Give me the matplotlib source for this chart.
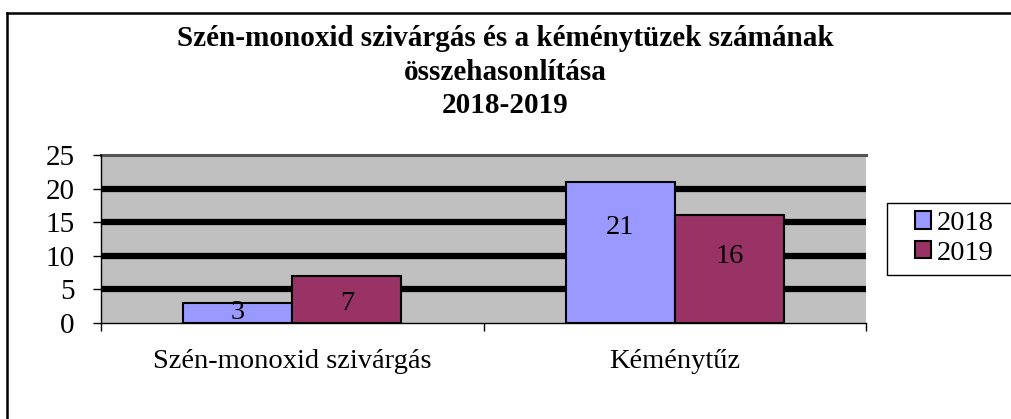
import matplotlib
matplotlib.use("Agg")
import matplotlib.pyplot as plt
from matplotlib.patches import Patch, Rectangle
from matplotlib.lines import Line2D
import numpy as np

# ---- data ----
categories = ["Szén-monoxid szivárgás", "Kéménytűz"]
series_names = ["2018", "2019"]
values_2018 = [3, 21]
values_2019 = [7, 16]
yticks = [0, 5, 10, 15, 20, 25]
title = "Szén-monoxid szivárgás és a kéménytüzek számának\nösszehasonlítása\n2018-2019"

# ---- style ----
colors = ["#9999FF", "#993366"]
label_frac = [[0.53, 0.676], [0.42, 0.62]]  # vertical placement of value labels within bars
plt.rcParams['font.family'] = ['Liberation Serif', 'DejaVu Serif']
W, H = 1011, 419
fig = plt.figure(figsize=(W / 100, H / 100), dpi=100)

def fx(px):
    return px / W

def fy(py):
    return 1 - py / H

ax = fig.add_axes([fx(101), fy(323), fx(866) - fx(101), fy(155) - fy(323)])
ax.set_facecolor("#C0C0C0")
ax.set_xlim(-0.5, 1.5)
ax.set_ylim(0, 25)

# gridlines
for t in yticks[1:-1]:
    ax.axhline(t, color="black", lw=4.5, zorder=1)
ax.axhline(25, color="#555555", lw=2.2, zorder=1, clip_on=False)

x = np.arange(len(categories))
bw = 0.285
all_vals = [values_2018, values_2019]
for i, vals in enumerate(all_vals):
    xs = x + (i - 0.5) * bw
    ax.bar(xs, vals, width=bw, color=colors[i], edgecolor="black", linewidth=1.5, zorder=3)
    for j, (bx, v) in enumerate(zip(xs, vals)):
        ax.text(bx, v * label_frac[i][j], str(v), ha="center", va="center", fontsize=20.5, zorder=4)

for s in ["top", "right"]:
    ax.spines[s].set_visible(False)
ax.spines["left"].set_linewidth(1.0)
ax.spines["bottom"].set_linewidth(1.0)
ax.spines["left"].set_zorder(5)
ax.spines["bottom"].set_zorder(5)

ax.set_yticks(yticks)
ax.set_yticklabels([str(t) for t in yticks], fontsize=21)
ax.tick_params(axis="y", direction="out", length=6, width=1, pad=13)

ax.set_xticks([-0.5, 0.5, 1.5])
ax.set_xticklabels([])
ax.tick_params(axis="x", direction="out", length=6, width=1)
for xi, c in zip(x, categories):
    ax.text(xi, -0.23, c, transform=ax.get_xaxis_transform(), ha="center", va="center", fontsize=20.5)

fig.text(0.5, fy(72), title, ha="center", va="center", fontsize=21, fontweight="bold",
         linespacing=1.32)

# legend: frame drawn separately, entries without frame
fig.add_artist(Rectangle((fx(887), fy(275)), fx(1020) - fx(887), fy(203) - fy(275),
                         transform=fig.transFigure, facecolor="white", edgecolor="black",
                         lw=1.0, clip_on=False))
handles = [Patch(facecolor=colors[k], edgecolor="black", linewidth=1.5) for k in range(2)]
leg = fig.legend(handles, series_names, loc="center left", bbox_to_anchor=(fx(915), fy(238.5)),
                 fontsize=20.5, frameon=False,
                 handlelength=0.55, handleheight=0.55, handletextpad=0.2, borderpad=0,
                 labelspacing=0.17, borderaxespad=0)

# outer chart border (top and left visible)
fig.add_artist(Line2D([fx(7), 1.0], [fy(13), fy(13)], color="black", lw=1.8))
fig.add_artist(Line2D([fx(7), fx(7)], [fy(13), 0.0], color="black", lw=1.8))

fig.savefig("out.png", dpi=100, facecolor="white")
